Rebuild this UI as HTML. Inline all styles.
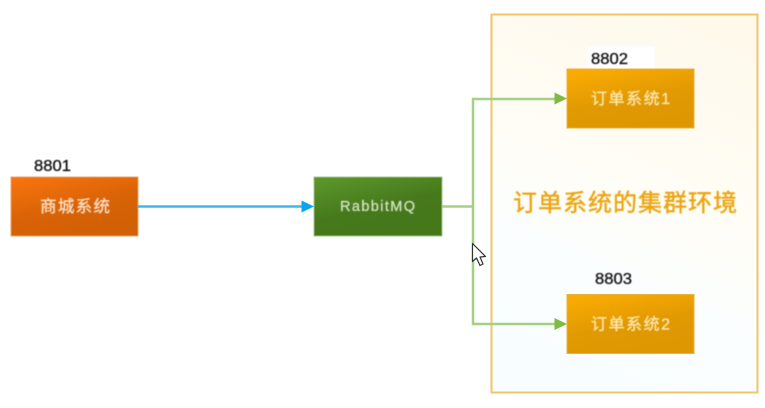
<!DOCTYPE html>
<html>
<head>
<meta charset="utf-8">
<style>
html,body{margin:0;padding:0;background:#fff;}
body{width:765px;height:408px;overflow:hidden;position:relative;font-family:"Liberation Sans","Noto Sans CJK SC",sans-serif;}
svg{position:absolute;left:0;top:0;}
text{font-family:"Liberation Sans","Noto Sans CJK SC",sans-serif;}
</style>
</head>
<body>
<svg width="765" height="408" viewBox="0 0 765 408">
<defs>
<linearGradient id="o" x1="0" y1="0" x2="0.5" y2="1"><stop offset="0" stop-color="#fa750f"/><stop offset="0.6" stop-color="#d96306"/><stop offset="1" stop-color="#d26005"/></linearGradient>
<linearGradient id="g" x1="0" y1="0" x2="0.5" y2="1"><stop offset="0" stop-color="#5b9a2c"/><stop offset="0.6" stop-color="#47791c"/><stop offset="1" stop-color="#447819"/></linearGradient>
<linearGradient id="y" x1="0" y1="0" x2="0.4" y2="1"><stop offset="0" stop-color="#fdae03"/><stop offset="0.6" stop-color="#e29a02"/><stop offset="1" stop-color="#de9701"/></linearGradient>
<linearGradient id="bg" x1="0.7" y1="0" x2="0.4" y2="1"><stop offset="0" stop-color="#fff9ec"/><stop offset="0.45" stop-color="#fffdf6"/><stop offset="0.7" stop-color="#fbfefe"/><stop offset="1" stop-color="#f8fdff"/></linearGradient>
<filter id="b" x="-10%" y="-30%" width="120%" height="160%"><feGaussianBlur stdDeviation="0.5"/></filter>
</defs>
<rect x="491.500" y="14.500" width="266" height="378" fill="url(#bg)" stroke="#f0c567" stroke-width="2"/>
<rect x="588" y="46" width="67" height="23" fill="#fff"/>

<rect x="11" y="177" width="127" height="59" fill="url(#o)" stroke="#eda26a" stroke-width="1"/>
<rect x="314" y="177" width="128" height="59" fill="url(#g)" stroke="#a3c48c" stroke-width="1"/>
<rect x="567" y="69" width="127" height="59" fill="url(#y)" stroke="#e8b040" stroke-width="1"/>
<rect x="567" y="294.500" width="127" height="59" fill="url(#y)" stroke="#e8b040" stroke-width="1"/>

<line x1="138" y1="206.500" x2="304" y2="206.500" stroke="#3fb8ee" stroke-width="2.500"/>
<polygon points="314,206.500 301.500,200.500 301.500,212.500" fill="#0aa5f0"/>

<path d="M442 206.500H473V99H557M473 206.500V324H557" fill="none" stroke="#a5d083" stroke-width="2.500"/>
<polygon points="567,98.500 554.500,92.500 554.500,104.500" fill="#7dbb45"/>
<polygon points="567,324 554.500,318 554.500,330" fill="#7dbb45"/>

<path d="M472.500 243.500V261.500L476.500 258L480 265.500L483 264L480 257L485.500 256.500Z" fill="#fff" stroke="#333" stroke-width="1.200" stroke-linejoin="round"/>

<g filter="url(#b)">
<text x="34" y="171" font-size="15.500" fill="#111" stroke="#111" stroke-width="0.300" textLength="37" lengthAdjust="spacingAndGlyphs">8801</text>
<text x="591" y="64" font-size="15.500" fill="#111" stroke="#111" stroke-width="0.300" textLength="37" lengthAdjust="spacingAndGlyphs">8802</text>
<text x="595" y="284" font-size="15.500" fill="#111" stroke="#111" stroke-width="0.300" textLength="37" lengthAdjust="spacingAndGlyphs">8803</text>

<text x="40" y="212" font-size="16.500" fill="#fbe3cd" stroke="#fbe3cd" stroke-width="0.250" textLength="70">商城系统</text>
<text x="340" y="211" font-size="14.500" fill="#d3e3c4" stroke="#d3e3c4" stroke-width="0.250" textLength="75">RabbitMQ</text>
<text x="591" y="104" font-size="16" fill="#fde9b5" stroke="#fde9b5" stroke-width="0.250" textLength="79">订单系统1</text>
<text x="591" y="329.500" font-size="16" fill="#fde9b5" stroke="#fde9b5" stroke-width="0.250" textLength="79">订单系统2</text>
<text x="513" y="211" font-size="24" fill="#eda410" stroke="#eda410" stroke-width="0.400" textLength="224">订单系统的集群环境</text>
</g>
</svg>
</body>
</html>
